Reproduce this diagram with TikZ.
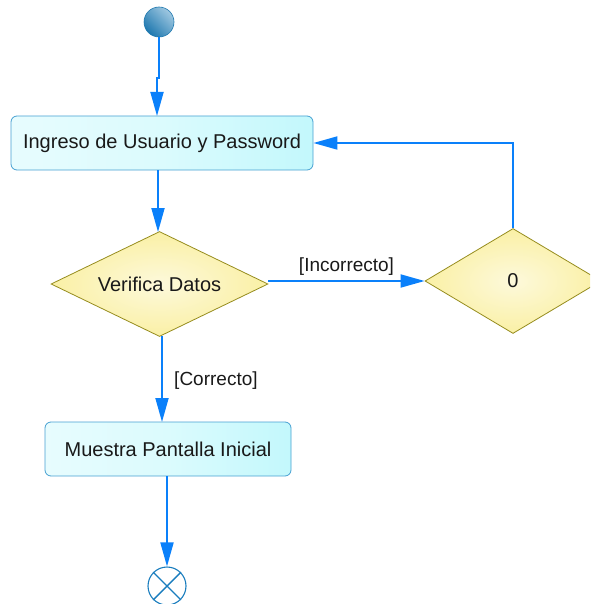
\documentclass[tikz,border=0pt]{standalone}
\usepackage{fontspec}
\setmainfont{Liberation Sans}
\usetikzlibrary{shapes.geometric,arrows.meta}
\definecolor{flowblue}{RGB}{10,128,250}
\definecolor{boxedge}{RGB}{70,160,210}
\definecolor{boxfill}{RGB}{195,248,252}
\definecolor{diaedge}{RGB}{150,140,30}
\definecolor{diafill}{RGB}{250,240,165}
\definecolor{startdark}{RGB}{30,120,175}
\definecolor{startlight}{RGB}{160,200,225}
\definecolor{endblue}{RGB}{25,125,190}
\tikzset{
  x=1pt,y=-1pt,
  every node/.style={font=\fontsize{20}{24}\selectfont, text=black!90},
  actbox/.style={rectangle, rounded corners=6pt, draw=boxedge, line width=0.8pt,
    left color=white!60!boxfill, right color=boxfill, middle color=white!40!boxfill, minimum height=54pt, inner sep=0pt},
  decision/.style={diamond, shape aspect=2, draw=diaedge, line width=0.8pt, inner color=white!60!diafill, outer color=diafill,
    minimum height=105pt, inner sep=0pt},
  flow/.style={draw=flowblue, line width=1.8pt, -{Triangle[length=24pt,width=13pt]}},
  guard/.style={font=\fontsize{19}{23}\selectfont}
}
\begin{document}
\begin{tikzpicture}
\useasboundingbox (0,0) rectangle (590,604);
\clip (0,0) rectangle (590,604);
\node[circle, minimum size=30pt, inner sep=0pt, draw=startdark, line width=0.6pt,
  left color=startlight, right color=startdark, shading angle=-45] (start) at (159,22) {};
\node[actbox, minimum width=302pt] (ingreso) at (162,143) {Ingreso de Usuario y Password};
\node[decision, minimum width=217pt] (verifica) at (159.5,284) {Verifica Datos};
\node[decision, minimum width=176pt] (cero) at (513,281) {0};
\node[actbox, minimum width=246pt] (muestra) at (168,449) {Muestra Pantalla Inicial};
\node[circle, minimum size=38pt, inner sep=0pt, draw=endblue, line width=1.1pt, fill=white] (fin) at (167,586) {};
\draw[endblue, line width=1.4pt] (fin.north west) -- (fin.south east) (fin.north east) -- (fin.south west);
\coordinate (jog) at (159,78);
\draw[flow] (start.south) -- (jog) -| (157,116);
\draw[flow] (158,170) -- (158,232);
\draw[flow] (verifica.east |- cero.west) -- node[guard, above=1pt] {[Incorrecto]} (cero.west);
\draw[flow] (cero.north) |- (ingreso.east);
\draw[flow] (162,336) -- node[guard, right=8pt, pos=0.52] {[Correcto]} (162,422);
\draw[flow] (167,476) -- (fin.north);
\end{tikzpicture}
\end{document}
